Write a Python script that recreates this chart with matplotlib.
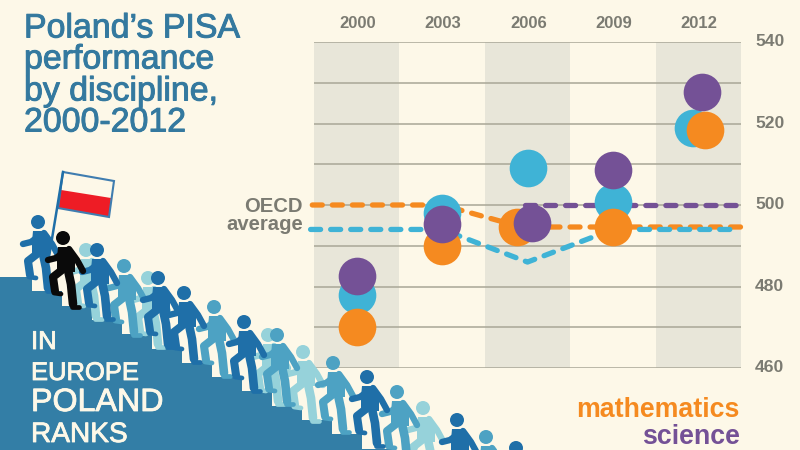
import matplotlib

matplotlib.use("Agg")
import matplotlib.pyplot as plt
import matplotlib.patheffects as pe
from matplotlib.patches import Circle, Polygon

BG = "#fdf8e8"
BAND = "#e8e6d9"
GRID = "#a9a797"
GREY = "#7b7b72"
ORANGE = "#f58a20"
BLUE = "#3fb3d6"
PURPLE = "#745196"
STAIR = "#337ea6"
DARK = "#1f6fa8"
MID = "#4da2c3"
PALE = "#96d2da"

years = ["2000", "2003", "2006", "2009", "2012"]
yticks = [460, 480, 500, 520, 540]
minor_grid = [470, 490, 510, 530]

reading = [478, 498, 509, 500.7, 519]
math = [470, 490, 494.6, 494.6, 518.5]
science = [482.6, 495.4, 495.6, 508.6, 527.7]
# the original nudges overlapping circles sideways
reading_off = [0, 0, 0, 0, -0.06]
math_off = [0, 0, -0.12, 0, 0.08]
science_off = [0, 0, 0.05, 0, 0.04]

oecd_math_x = [-0.52, 1, 1.93, 4.55]
oecd_math = [500, 500, 494.6, 494.6]
oecd_reading_x = [-0.54, 1, 2, 3, 4.43]
oecd_reading = [494, 494, 486, 494, 494]
oecd_science_x = [1.97, 4.52]
oecd_science = [500, 500]

# head position and colour of the climbers, in picture pixels
climbers = [
    (86, 250, PALE), (148, 278, PALE), (268, 335, PALE), (303, 352, PALE), (423, 408, PALE),
    (124, 266, MID), (214, 307, MID), (277, 335, MID), (333, 363, MID), (397, 392, MID), (486, 437, MID),
    (38, 222, DARK), (97, 250, DARK), (158, 278, DARK), (184, 293, DARK), (244, 322, DARK),
    (367, 377, DARK), (457, 420, DARK), (516, 448, DARK),
    (63, 238, "#0a0a0a"),
]

fig = plt.figure(figsize=(8, 4.5), dpi=100, facecolor=BG)
plt.rcParams["font.family"] = ["Liberation Sans", "DejaVu Sans"]

W, H = 800, 450
ax = fig.add_axes([314 / W, 1 - 368 / H, 427 / W, 326 / H], facecolor="none")
ax.set_xlim(-0.5, 4.5)
ax.set_ylim(460, 540)
for s in ax.spines.values():
    s.set_visible(False)
ax.set_xticks([])
ax.set_yticks([])

for i in (0, 2, 4):
    ax.axvspan(i - 0.5, i + 0.5, color=BAND, lw=0, zorder=0)
for v in yticks + minor_grid:
    ax.axhline(v, color=GRID, lw=1.1, zorder=1)

dash = dict(lw=3.8, ls=(0, (1.9, 1.9)), dash_capstyle="round", zorder=2, clip_on=False)
ax.plot(oecd_math_x, oecd_math, color=ORANGE, **dash)
ax.plot(oecd_reading_x, oecd_reading, color=BLUE, **dash)
ax.plot(oecd_science_x, oecd_science, color=PURPLE, **dash)

for vals, offs, col, z in [(reading, reading_off, BLUE, 3), (math, math_off, ORANGE, 4),
                           (science, science_off, PURPLE, 5)]:
    xs = [i + o for i, o in enumerate(offs)]
    ax.scatter(xs, vals, s=735, color=col, lw=0, zorder=z, clip_on=False)

for i, y in enumerate(years):
    ax.text(i + 0.01, 1.056, y, transform=ax.get_xaxis_transform(), ha="center", va="center",
            fontsize=12, fontweight="bold", color=GREY)
for v in yticks:
    ax.text(4.5 + 14 / 85.4, v + 0.1, str(v), ha="left", va="center",
            fontsize=12.6, fontweight="bold", color=GREY)

# overlay in pixel coordinates for the staircase illustration and the titles
art = fig.add_axes([0, 0, 1, 1], facecolor="none")
art.set_xlim(0, W)
art.set_ylim(H, 0)
art.axis("off")

stair = [(0, H), (0, 277), (32, 277)]
sx, sy = 32, 277
while sx < 392:
    sy += 14.3
    stair += [(sx, sy), (sx + 30, sy)]
    sx += 30
stair.append((sx, H))
art.add_patch(Polygon(stair, closed=True, color=STAIR, lw=0, zorder=1))


def person(x, y, col, z):
    art.add_patch(Circle((x, y), 7, color=col, lw=0, zorder=z))
    art.add_patch(Polygon([(x - 5, y + 9), (x + 6, y + 9), (x + 12, y + 18), (x + 12, y + 34),
                           (x - 6, y + 34), (x - 6, y + 20)], closed=True, color=col, lw=0, zorder=z))
    limb = dict(color=col, solid_capstyle="round", solid_joinstyle="round", zorder=z)
    art.plot([x + 1, x - 7, x - 15], [y + 14, y + 20, y + 22], lw=4.6, **limb)
    art.plot([x + 6, x + 14, x + 20], [y + 11, y + 22, y + 33], lw=4.6, **limb)
    art.plot([x - 1, x - 10, x - 8], [y + 32, y + 39, y + 53], lw=5.8, **limb)
    art.plot([x - 9, x - 2], [y + 55, y + 56], lw=3.4, **limb)
    art.plot([x + 5, x + 8, x + 10], [y + 32, y + 46, y + 66], lw=6.2, **limb)
    art.plot([x + 9, x + 16], [y + 69, y + 69], lw=3.4, **limb)


for n, (hx, hy, col) in enumerate(climbers):
    person(hx, hy, col, 3 + n * 0.01)

# flag
art.plot([48, 63], [263, 172], color=DARK, lw=1.8, zorder=2.9)
art.add_patch(Polygon([(63, 172), (114, 181), (111, 198), (61, 190)], closed=True, fc=BG, ec="none", zorder=2.8))
art.add_patch(Polygon([(61, 190), (111, 198), (109, 217), (58, 208)], closed=True, fc="#ee1c25", ec="none", zorder=2.8))
art.add_patch(Polygon([(63, 172), (114, 181), (109, 217), (58, 208)], closed=True, fc="none", ec="#3f7db0", lw=1.5, zorder=2.85))

title_col = "#34799f"
for txt, y in [("Poland’s PISA", 29), ("performance", 60), ("by discipline,", 92), ("2000-2012", 123)]:
    art.text(24, y, txt, fontsize=24.4, color=title_col, va="center", ha="left", zorder=6,
             path_effects=[pe.withStroke(linewidth=0.7, foreground=title_col)])

for txt, y, fs in [("IN", 342, 18.5), ("EUROPE", 373, 18.4), ("POLAND", 403, 23.2), ("RANKS", 435, 20.2)]:
    art.text(31, y, txt, fontsize=fs, color=BG, va="center", ha="left", zorder=6,
             path_effects=[pe.withStroke(linewidth=0.6, foreground=BG)])

art.text(303, 206, "OECD", fontsize=14.6, fontweight="bold", color=GREY, ha="right", va="center", zorder=6)
art.text(303, 225, "average", fontsize=14.6, fontweight="bold", color=GREY, ha="right", va="center", zorder=6)

art.text(740, 410, "mathematics", fontsize=19.3, fontweight="bold", color=ORANGE, ha="right", va="center", zorder=6)
art.text(740, 437, "science", fontsize=19.3, fontweight="bold", color=PURPLE, ha="right", va="center", zorder=6)

fig.savefig("out.png", dpi=100, facecolor=BG)
